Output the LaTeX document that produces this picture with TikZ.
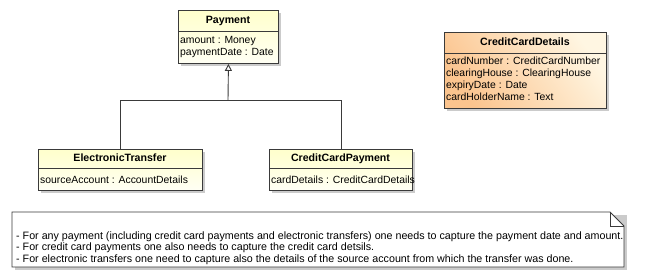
\documentclass[tikz,border=0pt]{standalone}
\usepackage{fontspec}
\setmainfont{Liberation Sans}
\usetikzlibrary{arrows.meta}
\definecolor{umlline}{HTML}{3A3A3A}
\definecolor{classtop}{HTML}{FFFFCC}
\definecolor{classbot}{HTML}{FFFFF4}
\definecolor{dtop}{HTML}{FBC48E}
\definecolor{dbot}{HTML}{FFF6E2}
\definecolor{shade}{HTML}{A8A8A8}
\tikzset{
  classbox/.style={draw=umlline, line width=0.9pt, anchor=north west, inner sep=0pt,
    top color=classtop, bottom color=classbot},
  dtbox/.style={draw=umlline, line width=0.9pt, anchor=north west, inner sep=0pt,
    left color=dtop, right color=dbot, shading angle=125},
  boxshadow/.style={fill=shade, draw=none, opacity=0.6},
  title/.style={font=\fontsize{10.6}{12}\selectfont\bfseries, anchor=base, inner sep=0pt},
  attr/.style={font=\fontsize{10.4}{12}\selectfont, anchor=base west, inner sep=0pt},
  notetext/.style={font=\fontsize{10.7}{12}\selectfont, anchor=base west, inner sep=0pt},
  sep/.style={draw=umlline, line width=0.9pt},
  gen/.style={draw=umlline, line width=0.9pt},
  notebox/.style={draw=umlline, line width=0.9pt, fill=white},
}
\begin{document}
\begin{tikzpicture}[x=1pt, y=-1pt]
\useasboundingbox (0,0) rectangle (650,280);

% shadows
\fill[boxshadow] (181,13) rectangle (281,66);
\fill[boxshadow] (41,152) rectangle (205,193);
\fill[boxshadow] (272,152) rectangle (415,193);
\fill[boxshadow] (447,35) rectangle (609,111);
\fill[boxshadow] (15,215) rectangle (627,270);

% Payment
\node[classbox, minimum width=100pt, minimum height=53pt] (payment) at (178,10) {};
\draw[sep] (178,31) -- (278,31);
\node[title] (paymentT) at (228,24) {Payment};
\node[attr] (paymentA1) at (180,44) {amount : Money};
\node[attr] (paymentA2) at (180,56) {paymentDate : Date};

% ElectronicTransfer
\node[classbox, minimum width=164pt, minimum height=41pt] (et) at (38,149) {};
\draw[sep] (38,168) -- (202,168);
\node[title] (etT) at (120,162) {ElectronicTransfer};
\node[attr] (etA1) at (40,184) {sourceAccount : AccountDetails};

% CreditCardPayment
\node[classbox, minimum width=143pt, minimum height=41pt] (ccp) at (269,149) {};
\draw[sep] (269,168) -- (412,168);
\node[title] (ccpT) at (340.5,162) {CreditCardPayment};
\node[attr] (ccpA1) at (271,184) {cardDetails : CreditCardDetails};

% CreditCardDetails
\node[dtbox, minimum width=162pt, minimum height=76pt] (ccd) at (444,32) {};
\draw[sep] (444,53) -- (606,53);
\node[title] (ccdT) at (525,46) {CreditCardDetails};
\node[attr] (ccdA1) at (446,65) {cardNumber : CreditCardNumber};
\node[attr] (ccdA2) at (446,77) {clearingHouse : ClearingHouse};
\node[attr] (ccdA3) at (446,89) {expiryDate : Date};
\node[attr] (ccdA4) at (446,101) {cardHolderName : Text};

% generalization tree
\coordinate (join) at (228,100);
\draw[gen] (et.north) |- (join);
\draw[gen] (ccp.north) |- (join);
\draw[gen, -{Triangle[open, length=7pt, width=7pt]}] (join) -- (payment.south);

% note
\draw[notebox] (12,212) -- (610,212) -- (624,226) -- (624,267) -- (12,267) -- cycle;
\draw[gen] (610,212) -- (610,226) -- (624,226);
\node[notetext] (n1) at (16,239.5) {- For any payment (including credit card payments and electronic transfers) one needs to capture the payment date and amount.};
\node[notetext] (n2) at (16,251) {- For credit card payments one also needs to capture the credit card detsils.};
\node[notetext] (n3) at (16,262.5) {- For electronic transfers one need to capture also the details of the source account from which the transfer was done.};
\end{tikzpicture}
\end{document}
